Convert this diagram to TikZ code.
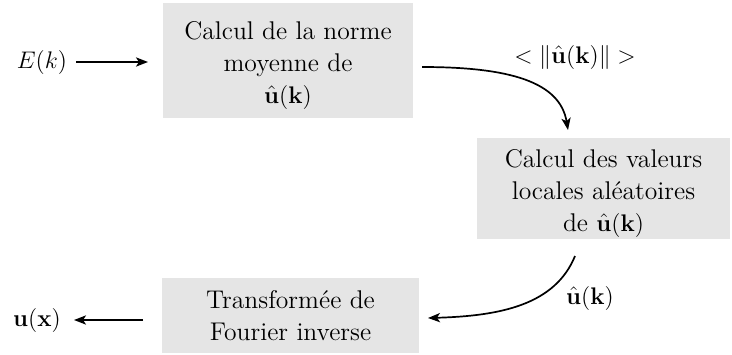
\documentclass[tikz,border=0pt]{standalone}
\usetikzlibrary{arrows.meta}
\usepackage{amsmath}
\begin{document}
\begin{tikzpicture}[x=0.5pt,y=-0.5pt,
  box/.style={fill=black!10, draw=none, inner sep=0pt},
  txt/.style={inner sep=0pt, align=center, font=\fontsize{12.8}{16}\selectfont},
  lbl/.style={inner sep=0pt, font=\fontsize{12.8}{16}\selectfont},
  arr/.style={-{Stealth[length=6pt,width=4.6pt,inset=1.5pt]}, line width=0.85pt}]
\useasboundingbox (0,0) rectangle (732,354);
\node[box, minimum width=125pt, minimum height=57.5pt] (b1) at (288,60.5) {};
\node[box, minimum width=126.5pt, minimum height=50.5pt] (b2) at (603.5,188.5) {};
\node[box, minimum width=128.5pt, minimum height=37.5pt] (b3) at (290.5,315.5) {};
\node[txt] (t1) at (288,65) {Calcul de la norme\\moyenne de\\$\hat{\mathbf{u}}(\mathbf{k})$};
\node[txt] (t2) at (603.5,193) {Calcul des valeurs\\locales aléatoires\\de $\hat{\mathbf{u}}(\mathbf{k})$};
\node[txt] (t3) at (290.5,316) {Transformée de\\Fourier inverse};
\node[lbl] (ek) at (42,62) {$E(k)$};
\node[lbl] (ux) at (37,320) {$\mathbf{u}(\mathbf{x})$};
\node[lbl] (norm) at (575,57) {$<\|\hat{\mathbf{u}}(\mathbf{k})\|>$};
\node[lbl] (uk) at (590,298) {$\hat{\mathbf{u}}(\mathbf{k})$};
\coordinate (a1s) at (76,62);
\coordinate (a1e) at (148,62);
\coordinate (a2s) at (143,320);
\coordinate (a2e) at (74,320);
\coordinate (c1s) at (422,67);
\coordinate (c1e) at (568,130);
\coordinate (c2s) at (575,256);
\coordinate (c2e) at (428,318);
\draw[arr] (a1s) -- (a1e);
\draw[arr] (a2s) -- (a2e);
\draw[arr] (c1s) .. controls (510,67) and (560,82) .. (c1e);
\draw[arr] (c2s) .. controls (555,305) and (500,316) .. (c2e);
\end{tikzpicture}
\end{document}
